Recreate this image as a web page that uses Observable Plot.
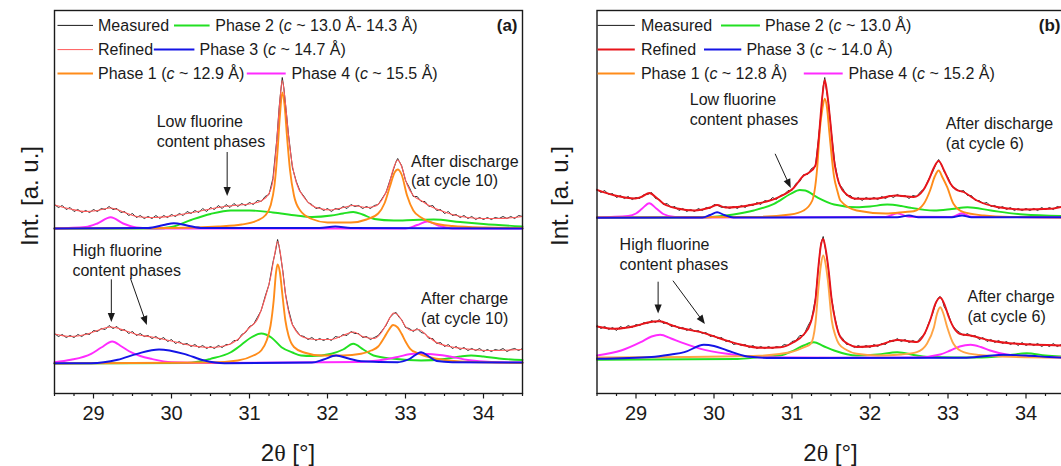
<!DOCTYPE html>
<html><head><meta charset="utf-8">
<script src="https://cdn.jsdelivr.net/npm/d3@7"></script>
<script src="https://cdn.jsdelivr.net/npm/@observablehq/plot@0.6"></script>
<style>
html,body{margin:0;padding:0;background:#fff;overflow:hidden;}
#wrap{display:flex;width:1061px;height:466px;overflow:hidden;}
#wrap > svg{flex:none;display:block;}
</style></head><body><div id="wrap"></div>
<script>
// ---------- tick labels / categories ----------
const majorTicks = [29, 30, 31, 32, 33, 34];
const minorTicks = [28.5, 28.75, 29.25, 29.5, 29.75, 30.25, 30.5, 30.75, 31.25, 31.5, 31.75, 32.25, 32.5, 32.75, 33.25, 33.5, 33.75, 34.25, 34.5];
const seriesNames = ["Measured", "Refined", "Phase 1", "Phase 2", "Phase 3", "Phase 4"];
const legendLabelsA = ["Measured", "Phase 2 (*c* ~ 13.0 Å- 14.3 Å)", "Refined", "Phase 3 (*c* ~ 14.7 Å)", "Phase 1 (*c* ~ 12.9 Å)", "Phase 4 (*c* ~ 15.5 Å)"];
const legendLabelsB = ["Measured", "Phase 2 (*c* ~ 13.0 Å)", "Refined", "Phase 3 (*c* ~ 14.0 Å)", "Phase 1 (*c* ~ 12.8 Å)", "Phase 4 (*c* ~ 15.2 Å)"];

// ---------- panel (a), after discharge (cycle 10) ----------
const aDisMeasured = [[28.5,189],[28.55,186],[28.6,188],[28.65,184],[28.7,186],[28.75,182],[28.8,184],[28.85,181],[28.9,183],[28.95,181],[29,184],[29.05,182],[29.1,185],[29.15,184],[29.2,187],[29.25,184],[29.3,185],[29.35,181],[29.4,182],[29.45,178],[29.5,180],[29.55,176],[29.6,178],[29.65,175],[29.7,177],[29.75,175],[29.8,178],[29.85,175],[29.9,178],[29.95,176],[30,179],[30.05,177],[30.1,180],[30.15,178],[30.2,182],[30.25,180],[30.3,183],[30.35,181],[30.4,185],[30.45,182],[30.5,186],[30.55,184],[30.6,188],[30.65,185],[30.7,189],[30.75,186],[30.8,190],[30.85,187],[30.9,190],[30.95,188],[31,191],[31.05,189],[31.1,193],[31.15,192],[31.2,197],[31.25,199],[31.3,215],[31.35,254],[31.38,286],[31.4,302],[31.42,316],[31.44,306],[31.47,283],[31.5,259],[31.55,226],[31.6,212],[31.65,202],[31.7,197],[31.75,191],[31.8,189],[31.85,185],[31.9,186],[31.95,183],[32,185],[32.05,182],[32.1,185],[32.15,184],[32.2,187],[32.25,185],[32.3,189],[32.35,187],[32.4,188],[32.45,185],[32.5,187],[32.55,185],[32.6,188],[32.65,189],[32.7,195],[32.75,201],[32.8,213],[32.85,225],[32.88,232],[32.9,235],[32.92,232],[32.95,228],[33,213],[33.05,206],[33.1,197],[33.15,197],[33.2,192],[33.25,192],[33.3,187],[33.35,188],[33.4,183],[33.45,184],[33.5,180],[33.55,182],[33.6,178],[33.65,179],[33.7,176],[33.75,178],[33.8,175],[33.85,177],[33.9,174],[33.95,176],[34,174],[34.05,176],[34.1,174],[34.15,176],[34.2,175],[34.25,177],[34.3,175],[34.35,177],[34.4,175],[34.45,178],[34.5,177]];
const aDisRefined = [[28.5,188.5],[28.7,184.5],[28.9,182],[29.05,183],[29.22,185.5],[29.4,181],[29.6,176.5],[29.8,176],[30,177.5],[30.2,180],[30.4,183],[30.6,186],[30.8,188],[31,189.5],[31.15,192.5],[31.25,200],[31.3,213],[31.35,253],[31.39,293],[31.42,313],[31.45,298],[31.5,258],[31.55,228],[31.6,211],[31.7,196],[31.8,188],[31.9,185],[32.05,183.5],[32.2,186],[32.33,188],[32.5,186],[32.6,187],[32.7,194],[32.78,207],[32.85,226],[32.9,233.5],[32.95,227],[33.02,209],[33.1,198],[33.2,193],[33.3,188],[33.45,183],[33.6,179],[33.8,176],[34,175],[34.2,175],[34.5,177]];
const aDisPhase1 = [[28.5,165],[30,165.5],[30.6,167],[30.9,169],[31.1,173],[31.2,178],[31.27,188],[31.32,208],[31.36,243],[31.39,278],[31.42,301],[31.45,288],[31.48,258],[31.52,223],[31.57,198],[31.65,183],[31.8,174.5],[32,171],[32.3,171],[32.5,174],[32.65,180],[32.73,190],[32.8,207],[32.86,221],[32.9,224],[32.95,219],[33.02,198],[33.1,183],[33.2,176],[33.35,170.5],[33.6,167.5],[34,166],[34.5,165.5]];
const aDisPhase2 = [[28.5,165],[29.8,165],[30,166.5],[30.25,173.5],[30.5,179.5],[30.76,183],[31,183],[31.3,181],[31.6,178],[31.8,176.5],[32.05,178],[32.2,180],[32.33,181.5],[32.45,179],[32.6,174.5],[32.85,173],[33.1,173.5],[33.36,174],[33.7,171.5],[34,169.5],[34.5,167]];
const aDisPhase3 = [[28.5,165],[29.7,165.5],[29.9,168.5],[30.03,170.3],[30.2,168],[30.4,165.5],[31.9,165.5],[32.1,167],[32.3,165.5],[34.5,165]];
const aDisPhase4 = [[28.5,165],[28.9,166.5],[29.05,170],[29.22,176.3],[29.38,170],[29.55,166],[29.8,165],[33,165],[33.15,168.5],[33.28,172],[33.42,168],[33.6,165],[34.5,165]];

// ---------- panel (a), after charge (cycle 10) ----------
const aChgMeasured = [[28.5,60],[28.55,57],[28.6,59],[28.65,56],[28.7,58],[28.75,56],[28.8,59],[28.85,57],[28.9,60],[28.95,59],[29,63],[29.05,62],[29.1,65],[29.15,64],[29.2,68],[29.25,65],[29.3,67],[29.35,63],[29.4,64],[29.45,60],[29.5,62],[29.55,58],[29.6,60],[29.65,57],[29.7,58],[29.75,55],[29.8,57],[29.85,54],[29.9,56],[29.95,52],[30,54],[30.05,50],[30.1,52],[30.15,49],[30.2,50],[30.25,47],[30.3,49],[30.35,46],[30.4,48],[30.45,45],[30.5,47],[30.55,45],[30.6,48],[30.65,46],[30.7,49],[30.75,49],[30.8,53],[30.85,53],[30.9,59],[30.95,61],[31,67],[31.05,69],[31.1,76],[31.15,83],[31.2,97],[31.25,109],[31.3,131],[31.33,141],[31.36,154],[31.38,147],[31.4,137],[31.43,121],[31.46,100],[31.5,84],[31.55,69],[31.6,63],[31.65,58],[31.7,57],[31.75,54],[31.8,56],[31.85,53],[31.9,55],[31.95,53],[32,55],[32.05,53],[32.1,57],[32.15,56],[32.2,59],[32.25,58],[32.3,62],[32.35,60],[32.4,60],[32.45,56],[32.5,57],[32.55,54],[32.6,56],[32.65,58],[32.7,63],[32.75,68],[32.8,76],[32.85,80],[32.88,81],[32.92,76],[32.95,74],[33,66],[33.05,65],[33.1,62],[33.15,65],[33.2,61],[33.25,60],[33.3,55],[33.35,55],[33.4,50],[33.45,51],[33.5,47],[33.55,49],[33.6,45],[33.65,47],[33.7,44],[33.75,46],[33.8,43],[33.85,45],[33.9,43],[33.95,45],[34,42],[34.05,44],[34.1,42],[34.15,44],[34.2,43],[34.25,45],[34.3,42],[34.35,44],[34.4,45],[34.45,43],[34.5,45]];
const aChgRefined = [[28.5,59.5],[28.7,57],[28.9,59],[29.05,63],[29.22,66.5],[29.4,63],[29.55,59],[29.75,56.5],[30,52.5],[30.25,48],[30.5,46],[30.7,48],[30.85,54],[31,66],[31.1,74],[31.19,93],[31.27,116],[31.32,138],[31.36,152],[31.4,138],[31.44,113],[31.48,90],[31.53,73],[31.6,62],[31.7,56],[31.85,54],[32.05,54],[32.2,58],[32.33,61.5],[32.45,57],[32.6,55],[32.7,62],[32.78,73],[32.85,80.5],[32.92,77],[33,67],[33.08,63],[33.17,64],[33.27,58],[33.4,51],[33.6,46.5],[33.8,44.5],[34.1,43],[34.5,44]];
const aChgPhase1 = [[28.5,30],[30.5,31],[30.85,33],[31.05,38],[31.15,43],[31.22,53],[31.27,68],[31.31,93],[31.34,121],[31.36,129],[31.39,121],[31.42,100],[31.46,73],[31.5,58],[31.57,46.5],[31.7,41],[31.92,38],[32.2,38],[32.43,39.7],[32.56,43],[32.65,47],[32.73,56.3],[32.79,64],[32.84,68.5],[32.9,66],[32.95,59.7],[33,52],[33.06,44.7],[33.15,40.5],[33.23,38],[33.4,34.7],[33.7,32],[34.5,30.5]];
const aChgPhase2 = [[28.5,30],[30.2,30.5],[30.5,34.7],[30.76,41.3],[30.9,49],[31.02,56],[31.15,60],[31.28,56],[31.41,46.3],[31.55,41],[31.66,38],[31.8,37.5],[32.05,39.7],[32.2,44],[32.33,49.7],[32.46,44],[32.59,38],[32.85,34.7],[33.2,33],[33.5,34.5],[33.7,37],[33.84,38],[34,37],[34.2,35],[34.5,33.5]];
const aChgPhase3 = [[28.5,30.3],[28.97,30.3],[29.31,33.7],[29.56,39.7],[29.84,44],[30.16,39.7],[30.42,33],[30.68,30.3],[31.8,31],[31.95,34],[32.11,38],[32.27,35],[32.43,32.3],[32.9,31.3],[33.05,34.5],[33.2,41.3],[33.3,37],[33.4,32.5],[33.6,31.3],[34.5,31]];
const aChgPhase4 = [[28.5,31.3],[28.71,33.7],[28.97,39.7],[29.1,46],[29.24,52],[29.36,47],[29.48,41.3],[29.6,37.5],[29.74,34.7],[30,31.3],[30.5,30.5],[32.4,31.5],[32.65,33],[32.9,36.5],[33.1,39.7],[33.3,39.5],[33.57,37],[33.8,33.5],[34.1,31.5],[34.5,31]];

// ---------- panel (b), after discharge (cycle 6) ----------
const bDisMeasured = [[28.5,204],[28.55,201],[28.6,203],[28.65,199],[28.7,200],[28.75,196],[28.8,198],[28.85,195],[28.9,197],[28.95,194],[29,196],[29.05,195],[29.1,199],[29.15,199],[29.2,201],[29.25,195],[29.3,194],[29.35,189],[29.4,190],[29.45,186],[29.5,187],[29.55,183],[29.6,185],[29.65,182],[29.7,184],[29.75,182],[29.8,185],[29.85,183],[29.9,186],[29.95,185],[30,189],[30.05,188],[30.1,186],[30.15,187],[30.2,185],[30.25,187],[30.3,185],[30.35,188],[30.4,186],[30.45,189],[30.5,188],[30.55,191],[30.6,189],[30.65,193],[30.7,192],[30.75,196],[30.8,194],[30.85,198],[30.9,199],[30.95,203],[31,203],[31.05,210],[31.1,212],[31.15,219],[31.2,219],[31.25,225],[31.3,227],[31.34,255],[31.37,279],[31.4,307],[31.42,316],[31.44,304],[31.47,289],[31.5,265],[31.55,230],[31.6,210],[31.65,205],[31.7,198],[31.75,198],[31.8,194],[31.85,196],[31.9,193],[31.95,196],[32,194],[32.05,196],[32.1,194],[32.15,197],[32.2,195],[32.25,198],[32.3,196],[32.35,199],[32.4,197],[32.45,198],[32.5,195],[32.55,198],[32.6,197],[32.65,202],[32.7,205],[32.75,214],[32.8,221],[32.85,230],[32.88,234],[32.92,228],[32.95,222],[33,216],[33.05,207],[33.1,205],[33.15,202],[33.2,203],[33.25,198],[33.3,198],[33.35,193],[33.4,193],[33.45,190],[33.5,191],[33.55,187],[33.6,188],[33.65,185],[33.7,187],[33.75,184],[33.8,186],[33.85,183],[33.9,185],[33.95,183],[34,185],[34.05,183],[34.1,185],[34.15,183],[34.2,186],[34.25,184],[34.3,186],[34.35,184],[34.4,187],[34.45,186],[34.5,188]];
const bDisRefined = [[28.5,203.7],[28.73,198],[28.99,195],[29.08,197],[29.17,200.5],[29.26,196],[29.35,190],[29.53,185],[29.75,183],[29.95,186],[30.04,188.5],[30.15,186],[30.3,186.5],[30.55,189.7],[30.81,195.7],[31.02,205.5],[31.15,218],[31.22,221],[31.3,228],[31.34,253],[31.39,298],[31.42,313.5],[31.45,301],[31.49,273],[31.54,233],[31.6,211],[31.7,199],[31.83,194.7],[32.09,195],[32.33,198],[32.56,196.5],[32.68,203],[32.75,213],[32.82,226],[32.88,232.5],[32.95,223],[33.03,210],[33.1,204],[33.2,201.5],[33.37,193],[33.63,186.5],[33.97,184],[34.31,184.7],[34.5,187.5]];
const bDisPhase1 = [[28.5,176],[30.5,176.5],[30.98,179],[31.15,183],[31.26,193],[31.32,223],[31.36,266.3],[31.39,285],[31.42,294.7],[31.45,285],[31.48,260],[31.54,216.3],[31.58,203],[31.62,193],[31.83,183],[32.2,180],[32.45,181.5],[32.56,182.3],[32.69,189.7],[32.77,203],[32.83,217],[32.88,223],[32.93,216],[32.99,206.3],[33.07,189.7],[33.2,181.3],[33.46,178],[33.8,176.5],[34.5,176]];
const bDisPhase2 = [[28.5,176],[29.85,176],[30.1,177.5],[30.25,179],[30.51,183],[30.77,189.7],[30.98,199.5],[31.1,203.5],[31.17,203],[31.32,196.3],[31.54,189],[31.83,186.3],[32,187],[32.22,189],[32.4,187.5],[32.52,185.7],[32.82,183],[33.05,184.5],[33.25,186.3],[33.55,183],[33.97,179],[34.5,177.5]];
const bDisPhase3 = [[28.5,175.7],[29.85,176],[29.95,178.5],[30.04,181.3],[30.13,178.5],[30.25,176],[32.35,176.3],[32.5,178],[32.62,176.3],[33.05,176.3],[33.18,178],[33.3,176.3],[34.5,176.3]];
const bDisPhase4 = [[28.5,176],[28.9,177.5],[29,180],[29.08,185],[29.17,190.3],[29.26,185],[29.35,179.5],[29.5,176.5],[29.8,176],[32.2,176.5],[32.35,180.3],[32.5,176.7],[33.05,176.5],[33.18,180.3],[33.3,176.7],[34.5,176]];

// ---------- panel (b), after charge (cycle 6) ----------
const bChgMeasured = [[28.5,68],[28.55,65],[28.6,67],[28.65,64],[28.7,66],[28.75,63],[28.8,67],[28.85,65],[28.9,68],[28.95,66],[29,69],[29.05,68],[29.1,71],[29.15,70],[29.2,73],[29.25,71],[29.3,74],[29.35,70],[29.4,71],[29.45,67],[29.5,68],[29.55,65],[29.6,66],[29.65,63],[29.7,65],[29.75,62],[29.8,63],[29.85,60],[29.9,61],[29.95,57],[30,58],[30.05,55],[30.1,56],[30.15,52],[30.2,53],[30.25,49],[30.3,50],[30.35,48],[30.4,49],[30.45,46],[30.5,48],[30.55,45],[30.6,47],[30.65,45],[30.7,47],[30.75,45],[30.8,47],[30.85,46],[30.9,49],[30.95,48],[31,52],[31.05,53],[31.1,58],[31.15,58],[31.2,67],[31.25,74],[31.3,95],[31.34,127],[31.37,150],[31.4,157],[31.43,144],[31.46,129],[31.5,99],[31.55,76],[31.6,59],[31.65,55],[31.7,49],[31.75,49],[31.8,46],[31.85,48],[31.9,46],[31.95,48],[32,46],[32.05,49],[32.1,47],[32.15,50],[32.2,49],[32.25,53],[32.3,52],[32.35,55],[32.4,52],[32.45,54],[32.5,51],[32.55,53],[32.6,51],[32.65,56],[32.7,59],[32.75,70],[32.8,79],[32.85,92],[32.88,96],[32.9,97],[32.93,93],[32.95,87],[33,80],[33.05,69],[33.1,64],[33.15,61],[33.2,58],[33.25,60],[33.3,57],[33.35,58],[33.4,54],[33.45,56],[33.5,52],[33.55,54],[33.6,51],[33.65,53],[33.7,50],[33.75,52],[33.8,49],[33.85,51],[33.9,48],[33.95,51],[34,48],[34.05,50],[34.1,48],[34.15,50],[34.2,47],[34.25,49],[34.3,47],[34.35,50],[34.4,47],[34.45,49],[34.5,48]];
const bChgRefined = [[28.5,67],[28.73,64.7],[28.99,67.5],[29.15,71],[29.3,72.3],[29.45,68.5],[29.6,65],[29.83,61.3],[30.08,55],[30.34,49],[30.6,45.7],[30.85,46.3],[31.02,51.3],[31.15,59],[31.24,71],[31.3,93],[31.34,128],[31.37,148],[31.4,154.5],[31.43,145],[31.47,123],[31.51,93],[31.56,71],[31.62,56.5],[31.72,49.5],[31.83,46.5],[32.09,48],[32.35,53.5],[32.6,51.5],[32.7,60],[32.77,73],[32.84,90],[32.9,96],[32.96,88],[33.01,76.5],[33.08,65],[33.15,59.7],[33.29,58],[33.54,53],[33.89,49.7],[34.5,48]];
const bChgPhase1 = [[28.5,36],[30.5,37.5],[30.98,41.3],[31.15,46],[31.24,49.7],[31.3,69.7],[31.34,106.3],[31.37,128],[31.4,138],[31.43,130],[31.46,113],[31.51,73],[31.56,57],[31.6,49.7],[31.7,43.5],[31.83,39.7],[32.1,38],[32.4,39],[32.6,41.3],[32.73,49.7],[32.82,66.3],[32.86,80],[32.9,86.3],[32.94,80],[32.99,66.3],[33.07,49.7],[33.2,41.3],[33.4,38.5],[33.8,36.7],[34.5,36]];
const bChgPhase2 = [[28.5,33.7],[30.3,34.5],[30.6,36.5],[30.85,38],[31.02,43],[31.15,48],[31.28,51.3],[31.4,47.5],[31.54,43],[31.83,38],[32.1,39],[32.35,41.3],[32.6,38],[32.77,36.5],[33.37,36],[33.7,37.5],[34.01,40.3],[34.25,38],[34.5,37]];
const bChgPhase3 = [[28.5,34.7],[29.2,36.5],[29.45,39],[29.62,41.3],[29.87,48.7],[30,47.5],[30.17,43],[30.43,37],[30.75,35.5],[33.2,35.7],[33.5,37.5],[33.71,38.7],[34,38],[34.3,36.5],[34.5,35.7]];
const bChgPhase4 = [[28.5,38],[28.81,43],[29.06,51.3],[29.2,57],[29.31,58.7],[29.45,55],[29.57,51.3],[29.83,44.7],[30.17,39.7],[30.6,36.3],[31.5,35.7],[32.6,36],[32.9,39],[33.03,43],[33.15,47],[33.29,48.7],[33.42,46.5],[33.54,43],[33.75,39],[34,37],[34.5,36]];

// ---------- annotations (data units) ----------
const notesA = [
  {x: 29.81, y: 262.5, text: "Low fluorine\ncontent phases"},
  {x: 33.07, y: 223.4, text: "After discharge\n(at cycle 10)"},
  {x: 28.73, y: 133.7, text: "High fluorine\ncontent phases"},
  {x: 33.2, y: 85.7, text: "After charge\n(at cycle 10)"}
];
const arrowsA = [
  {x1: 30.72, y1: 241, x2: 30.72, y2: 197},
  {x1: 29.235, y1: 113.7, x2: 29.235, y2: 71},
  {x1: 29.48, y1: 114.7, x2: 29.69, y2: 68}
];
const notesB = [
  {x: 29.69, y: 284.9, text: "Low fluorine\ncontent phases"},
  {x: 32.97, y: 261.3, text: "After discharge\n(at cycle 6)"},
  {x: 28.79, y: 139.7, text: "High fluorine\ncontent phases"},
  {x: 33.25, y: 88.3, text: "After charge\n(at cycle 6)"}
];
const arrowsB = [
  {x1: 30.79, y1: 239.2, x2: 30.99, y2: 205},
  {x1: 29.29, y1: 111.3, x2: 29.29, y2: 79.5},
  {x1: 29.48, y1: 112.3, x2: 29.89, y2: 69}
];

// ---------- styling ----------
const FONT = "'Liberation Sans', Arial, Helvetica, sans-serif";
const INK = "#1a1a1a";
const COL = {measured: "#1a1a1a", p1: "#ff8c1a", p2: "#22e022", p3: "#1414e6", p4: "#ff2bff"};

const rows = (pairs) => pairs.map(([x, y]) => ({x, y}));

function patternMarks(p, refinedColor, refinedWidth, orange) {
  const smooth = {x: "x", y: "y", curve: "monotone-x", strokeWidth: 1.9};
  return [
    Plot.line(rows(p.phase2), {...smooth, stroke: COL.p2}),
    Plot.line(rows(p.phase4), {...smooth, stroke: COL.p4}),
    Plot.line(rows(p.phase1), {...smooth, stroke: orange || COL.p1}),
    Plot.line(rows(p.phase3), {...smooth, stroke: COL.p3}),
    Plot.line(rows(p.measured), {x: "x", y: "y", stroke: COL.measured, strokeWidth: 0.9}),
    Plot.line(rows(p.refined), {x: "x", y: "y", curve: "monotone-x", stroke: refinedColor, strokeWidth: refinedWidth})
  ];
}

// arrows with filled heads, positioned through the plot's own x/y scales
function arrowMark(data) {
  return (index, scales) => {
    const g = d3.create("svg:g");
    for (const a of data) {
      const x1 = scales.x(a.x1), y1 = scales.y(a.y1), x2 = scales.x(a.x2), y2 = scales.y(a.y2);
      const dx = x2 - x1, dy = y2 - y1, L = Math.hypot(dx, dy), ux = dx / L, uy = dy / L;
      const hl = 9, hw = 3.6;
      const bx = x2 - ux * hl, by = y2 - uy * hl;
      g.append("line").attr("x1", x1).attr("y1", y1).attr("x2", bx + ux).attr("y2", by + uy)
        .attr("stroke", INK).attr("stroke-width", 1);
      g.append("path").attr("fill", INK)
        .attr("d", `M${x2},${y2}L${bx - uy * hw},${by + ux * hw}L${bx + uy * hw},${by - ux * hw}Z`);
    }
    return g.node();
  };
}

function decor(cfg) {
  return (index, scales, values, dims) => {
    const g = d3.create("svg:g").attr("font-family", FONT).attr("fill", INK).attr("text-anchor", "start");
    const {marginLeft: ml, width: w, marginRight: mr} = dims;
    g.append("text").attr("transform", "translate(37.5,196) rotate(-90)")
      .attr("text-anchor", "middle").attr("font-size", 24).text("Int. [a. u.]");
    const xt = g.append("text").attr("x", (ml + w - mr) / 2).attr("y", 461)
      .attr("text-anchor", "middle").attr("font-size", 24);
    xt.append("tspan").text("2");
    xt.append("tspan").attr("font-family", "'Liberation Serif', 'DejaVu Serif', serif").text("θ");
    xt.append("tspan").text(" [°]");
    g.append("text").attr("x", cfg.letterX).attr("y", 25.4).attr("dy", "0.35em")
      .attr("text-anchor", "end").attr("font-size", 17).attr("font-weight", "bold").text(cfg.letter);
    const rowsY = [25.4, 49.6, 73.6];
    cfg.legend.forEach((it, i) => {
      const y = rowsY[it.row];
      g.append("line").attr("x1", it.s1).attr("x2", it.s2).attr("y1", y).attr("y2", y)
        .attr("stroke", it.color).attr("stroke-width", it.w);
      const t = g.append("text").attr("x", it.t).attr("y", y).attr("dy", "0.35em")
        .attr("font-size", 16).attr("text-anchor", "start");
      cfg.labels[i].split("*").forEach((part, k) => {
        const s = t.append("tspan").text(part);
        if (k % 2) s.attr("font-style", "italic");
      });
    });
    return g.node();
  };
}

function panel(cfg) {
  return Plot.plot({
    width: cfg.width, height: 466,
    marginLeft: cfg.marginLeft, marginRight: cfg.marginRight, marginTop: 10, marginBottom: 73,
    style: {fontFamily: FONT, color: INK, background: "#fff", overflow: "visible"},
    x: {domain: [28.5, 34.5]},
    y: {domain: [0, 383], axis: null},
    marks: [
      ...patternMarks(cfg.discharge, cfg.refinedColor, cfg.refinedWidth),
      ...patternMarks(cfg.charge, cfg.refinedColor, cfg.refinedWidth, cfg.chargeOrange),
      Plot.text(cfg.notes, {x: "x", y: "y", text: "text", textAnchor: "start", lineAnchor: "middle",
        lineHeight: 1.25, fontSize: 16, fill: INK}),
      arrowMark(cfg.arrows),
      Plot.axisX({ticks: minorTicks, tickSize: 3, tickFormat: () => "", label: null, strokeWidth: 1.2}),
      Plot.axisX({ticks: majorTicks, tickSize: 5.5, tickPadding: 7, fontSize: 20, label: null,
        strokeWidth: 1.2, tickFormat: d3.format("d")}),
      Plot.frame({stroke: INK, strokeWidth: 1.4}),
      decor(cfg)
    ]
  });
}

const legendLayoutA = [
  {row: 0, s1: 57.5, s2: 93, t: 98, color: COL.measured, w: 1},
  {row: 0, s1: 174, s2: 209.6, t: 215.3, color: COL.p2, w: 2},
  {row: 1, s1: 57.5, s2: 93, t: 98, color: "#ff5a5a", w: 1},
  {row: 1, s1: 153.8, s2: 194.4, t: 199.5, color: COL.p3, w: 2},
  {row: 2, s1: 57.5, s2: 93, t: 98, color: COL.p1, w: 2},
  {row: 2, s1: 246.8, s2: 285.7, t: 291.4, color: COL.p4, w: 2}
];
const legendLayoutB = [
  {row: 0, s1: 67.6, s2: 104.8, t: 110.9, color: COL.measured, w: 1},
  {row: 0, s1: 191, s2: 229.9, t: 235, color: COL.p2, w: 2},
  {row: 1, s1: 67.6, s2: 104.8, t: 110.9, color: "#e8141a", w: 2},
  {row: 1, s1: 174, s2: 211.3, t: 216.4, color: COL.p3, w: 2},
  {row: 2, s1: 67.6, s2: 104.8, t: 110.9, color: COL.p1, w: 2},
  {row: 2, s1: 273.8, s2: 312.7, t: 318.5, color: COL.p4, w: 2}
];

const wrap = document.getElementById("wrap");
wrap.append(panel({
  width: 530, marginLeft: 54, marginRight: 8, letter: "(a)", letterX: 517.5,
  refinedColor: "#ff5a5a", refinedWidth: 1.1,
  discharge: {measured: aDisMeasured, refined: aDisRefined, phase1: aDisPhase1, phase2: aDisPhase2, phase3: aDisPhase3, phase4: aDisPhase4},
  charge: {measured: aChgMeasured, refined: aChgRefined, phase1: aChgPhase1, phase2: aChgPhase2, phase3: aChgPhase3, phase4: aChgPhase4},
  notes: notesA, arrows: arrowsA, legend: legendLayoutA, labels: legendLabelsA
}));
wrap.append(panel({
  width: 535, marginLeft: 66.5, marginRight: 0.5, letter: "(b)", letterX: 530.5,
  refinedColor: "#e8141a", refinedWidth: 1.9, chargeOrange: "#ffa445",
  discharge: {measured: bDisMeasured, refined: bDisRefined, phase1: bDisPhase1, phase2: bDisPhase2, phase3: bDisPhase3, phase4: bDisPhase4},
  charge: {measured: bChgMeasured, refined: bChgRefined, phase1: bChgPhase1, phase2: bChgPhase2, phase3: bChgPhase3, phase4: bChgPhase4},
  notes: notesB, arrows: arrowsB, legend: legendLayoutB, labels: legendLabelsB
}));
</script></body></html>
